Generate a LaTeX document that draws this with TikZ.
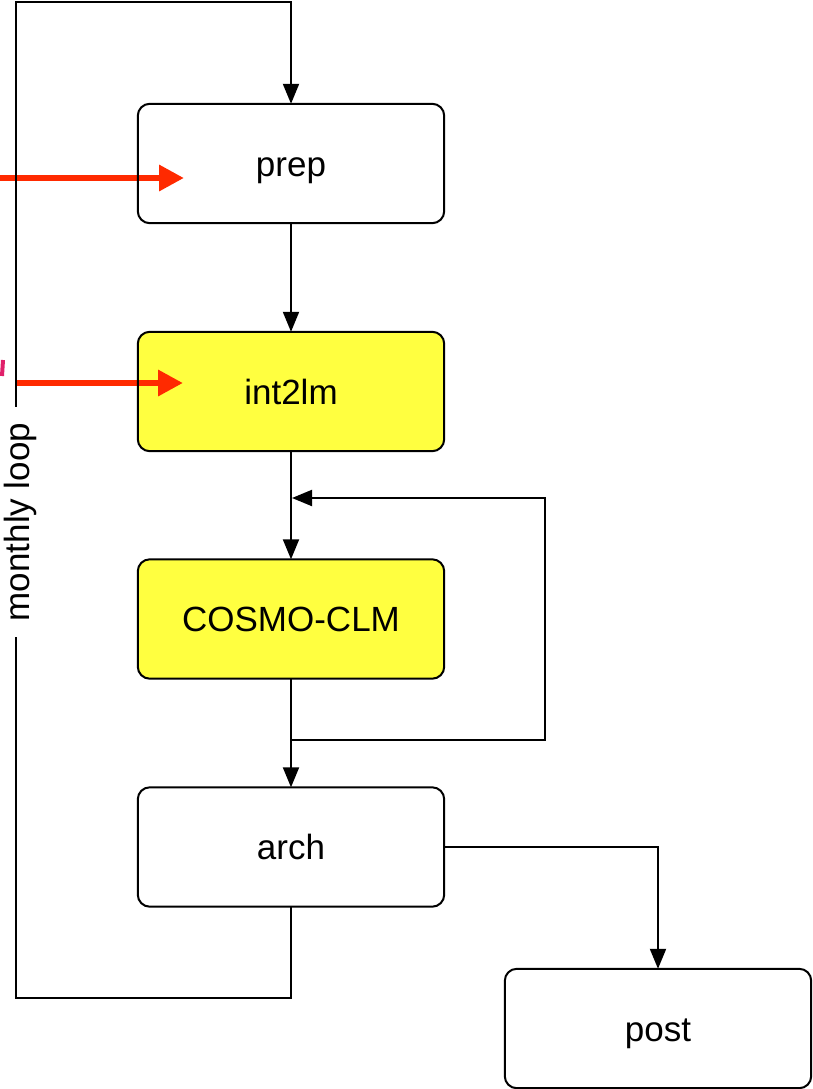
\documentclass[tikz,border=0pt]{standalone}
\usepackage{fontspec}
\setmainfont{Liberation Sans}
\usetikzlibrary{arrows.meta}
\definecolor{boxyellow}{HTML}{FFFF40}
\definecolor{arrred}{HTML}{FF2A00}
\definecolor{tickpink}{HTML}{E0206A}
\begin{document}
\begin{tikzpicture}[x=1pt,y=-1pt,
  boxfill/.style={minimum width=306pt,minimum height=119pt,inner sep=0pt,text height=30pt,text depth=5pt,rounded corners=12pt,font=\fontsize{35}{40}\selectfont},
  border/.style={draw=black,line width=2pt,rounded corners=12pt},
  conn/.style={draw=black,line width=2pt,-{Triangle[length=20pt,width=16pt]}},
  redarr/.style={draw=arrred,line width=6.5pt,-{Triangle[length=25pt,width=25pt]}}]
\useasboundingbox (0,0) rectangle (813,1089);
% box fills
\node[boxfill,fill=white] (prep) at (291,163.5) {prep};
\node[boxfill,fill=boxyellow] (int) at (291,391.5) {int2lm};
\node[boxfill,fill=boxyellow] (cosmo) at (291,619) {COSMO-CLM};
\node[boxfill,fill=white] (arch) at (291,847) {arch};
\node[boxfill,fill=white] (post) at (658,1028.5) {post};
% red incoming arrows
\coordinate (r1s) at (0,178);
\coordinate (r1e) at (184,178);
\coordinate (r2s) at (15,383);
\coordinate (r2e) at (183,383);
\draw[redarr] (r1s) -- (r1e);
\draw[redarr] (r2s) -- (r2e);
\draw[tickpink,line width=4pt] (3,360) -- (2,376);
% borders
\foreach \n in {prep,int,cosmo,arch,post}
  \draw[border] (\n.south west) rectangle (\n.north east);
% main chain
\draw[conn] (prep.south) -- (int.north);
\draw[conn] (int.south) -- (cosmo.north);
\draw[conn] (cosmo.south) -- (arch.north);
% feedback loop
\coordinate (fb1) at (291,740);
\coordinate (fb2) at (545,740);
\coordinate (fb3) at (545,498);
\coordinate (fb4) at (292,498);
\draw[conn] (fb1) -- (fb2) -- (fb3) -- (fb4);
% arch to post
\draw[conn] (arch.east) -| (post.north);
% monthly loop
\coordinate (m1) at (291,998);
\coordinate (m2) at (16,998);
\coordinate (m3) at (16,2);
\coordinate (m4) at (291,2);
\draw[conn] (arch.south) -- (m1) -- (m2) -- (m3) -- (m4) -- (prep.north);
\node[fill=white,rotate=90,inner sep=0pt,text height=27pt,text depth=8pt,minimum width=230pt,font=\fontsize{35}{40}\selectfont] (ml) at (20,522) {monthly loop};
\end{tikzpicture}
\end{document}
